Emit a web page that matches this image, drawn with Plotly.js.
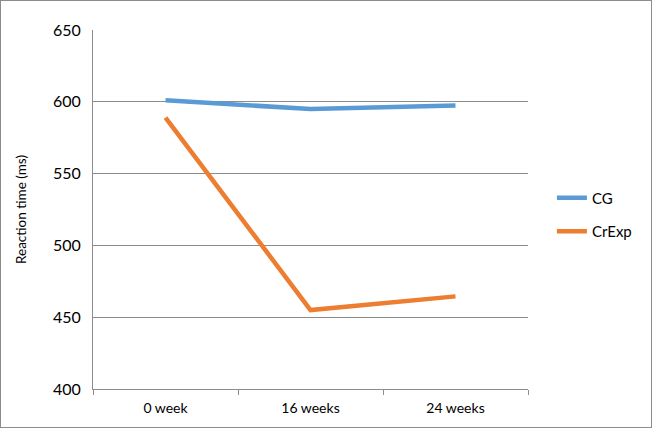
<!DOCTYPE html>
<html>
<head>
<meta charset="utf-8">
<script src="https://cdn.plot.ly/plotly-3.0.1.min.js"></script>
<style>
html,body{margin:0;padding:0;background:#fff;}
#frame{position:absolute;left:0;top:0;width:650px;height:426px;border:1px solid #8c8c8c;}
#chart{position:absolute;left:0;top:0;width:653px;height:429px;}
</style>
</head>
<body>
<div id="frame"></div>
<div id="chart"></div>
<script>
const categories = ["0 week", "16 weeks", "24 weeks"];
const cgValues = [601, 595, 597.5];
const crexpValues = [589, 455, 464.5];
const seriesNames = ["CG", "CrExp"];
const yTicks = [400, 450, 500, 550, 600, 650];

const font = "Lato, 'Open Sans', sans-serif";
const traces = [
  {x: categories, y: cgValues, name: seriesNames[0], type: "scatter", mode: "lines",
   line: {color: "#5B9BD5", width: 4.5}, legendgroup: "a"},
  {x: categories, y: crexpValues, name: seriesNames[1], type: "scatter", mode: "lines",
   line: {color: "#ED7D31", width: 4.5}, legendgroup: "b"}
];
const layout = {
  width: 653, height: 429,
  paper_bgcolor: "rgba(0,0,0,0)", plot_bgcolor: "rgba(0,0,0,0)",
  margin: {l: 93, r: 125, t: 30, b: 40},
  font: {family: font, size: 14, color: "#000"},
  showlegend: true,
  legend: {x: 1.055, xanchor: "left", y: 0.486, yanchor: "middle",
           font: {family: font, size: 15}, tracegroupgap: 11, traceorder: "grouped",
           bgcolor: "rgba(0,0,0,0)"},
  xaxis: {type: "category", range: [-0.5, 2.5], showgrid: false, showline: true,
          linecolor: "#8c8c8c", linewidth: 1, ticks: "outside", tickson: "boundaries",
          ticklen: 5, tickcolor: "#8c8c8c", tickfont: {family: font, size: 14},
          ticklabelstandoff: 6, zeroline: false},
  yaxis: {range: [400, 650], tickvals: yTicks, showgrid: true, gridcolor: "#8c8c8c",
          gridwidth: 1, showline: true, linecolor: "#8c8c8c", ticks: "", zeroline: false,
          tickfont: {family: font, size: 16}, ticklabelstandoff: 8,
          title: {text: "Reaction time (ms)", font: {family: font, size: 13.5}, standoff: 23}}
};
Plotly.newPlot("chart", traces, layout, {displayModeBar: false, staticPlot: true});
</script>
</body>
</html>
